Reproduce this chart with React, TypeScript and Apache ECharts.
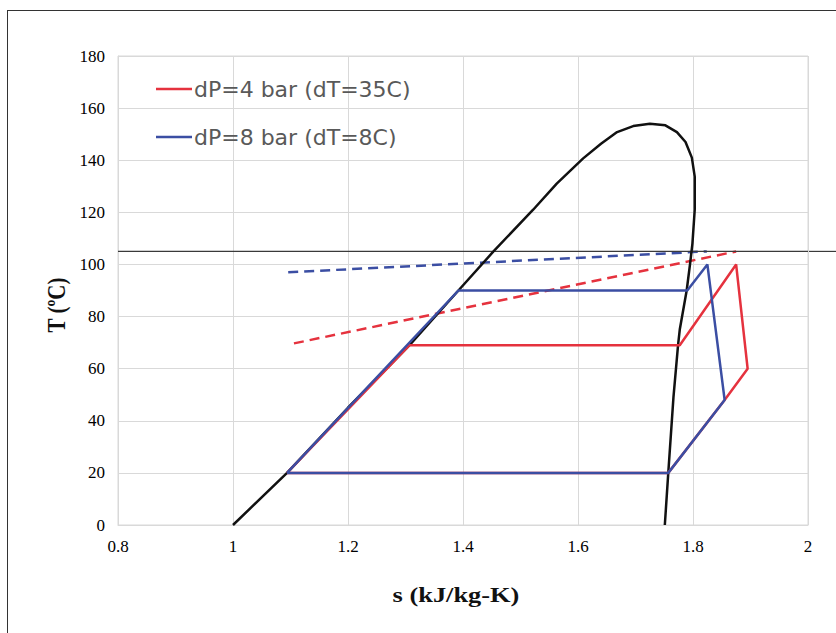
import React, { useEffect, useRef } from "react";
import * as echarts from "echarts";

// Saturation dome (s in kJ/kg-K, T in °C)
const domeS = [1.0, 1.094, 1.2, 1.307, 1.392, 1.453, 1.522, 1.563, 1.609, 1.64, 1.668, 1.696, 1.725, 1.752, 1.772, 1.787, 1.798, 1.803, 1.803, 1.799, 1.795, 1.789, 1.777, 1.774, 1.766, 1.757, 1.751];
const domeT = [0, 20, 45, 69, 90, 105, 121, 131, 140.7, 146.3, 150.8, 153.1, 154, 153.4, 150.8, 147, 141, 133.7, 121, 108, 100.4, 90, 75, 69, 49, 20, 0];

// dP = 4 bar cycle
const redS = [1.094, 1.307, 1.777, 1.875, 1.895, 1.855, 1.757, 1.094];
const redT = [20, 69, 69, 100, 60, 48, 20, 20];
// dP = 8 bar cycle
const blueS = [1.094, 1.392, 1.79, 1.825, 1.855, 1.757, 1.094];
const blueT = [20, 90, 90, 100, 48, 20, 20];

// dashed source lines
const redDashS = [1.106, 1.875];
const redDashT = [69.7, 105];
const blueDashS = [1.096, 1.824];
const blueDashT = [97, 105];

// reference temperature line
const refS = [0.8, 2];
const refT = [105, 105];

const xTicks = { min: 0.8, max: 2, interval: 0.2 };
const yTicks = { min: 0, max: 180, interval: 20 };

const RED = "#e5323e";
const BLUE = "#3b4ea3";
const NAME_RED = "dP=4 bar (dT=35C)";
const NAME_BLUE = "dP=8 bar (dT=8C)";

const pairs = (xs: number[], ys: number[]) => xs.map((x, i) => [x, ys[i]]);

const titleGraphics = [
  {
    type: "text",
    x: 57,
    y: 305,
    rotation: Math.PI / 2,
    scaleY: 1.15,
    style: { text: "T (ºC)", fill: "#111", font: "bold 21px 'Liberation Serif'", align: "center", verticalAlign: "middle" },
  },
  {
    type: "text",
    x: 456,
    y: 594,
    scaleX: 1.2,
    style: { text: "s (kJ/kg-K)", fill: "#111", font: "bold 22px 'Liberation Serif'", align: "center", verticalAlign: "middle" },
  },
];

export default function App() {
  const ref = useRef<HTMLDivElement>(null);
  useEffect(() => {
    if (!ref.current) return;
    const chart = echarts.init(ref.current, undefined, { renderer: "svg" });
    const line = (name: string, xs: number[], ys: number[], color: string, width: number, type: any = "solid") => ({
      name,
      type: "line",
      data: pairs(xs, ys),
      showSymbol: false,
      symbol: "none",
      silent: true,
      lineStyle: { color, width, type },
      itemStyle: { color },
    });
    chart.setOption({
      animation: false,
      grid: { left: 118, right: 28, top: 56, bottom: 108, show: true, borderColor: "#d9d9d9", borderWidth: 1 },
      legend: {
        data: [{ name: NAME_RED }, { name: NAME_BLUE }],
        orient: "vertical",
        left: 151,
        top: 73,
        itemGap: 26,
        icon: "rect",
        itemWidth: 36,
        itemHeight: 2.5,
        selectedMode: false,
        textStyle: { color: "#595959", fontSize: 22, fontFamily: "DejaVu Sans", padding: [0, 0, 0, -3] },
      },
      xAxis: {
        type: "value",
        ...xTicks,
        axisLine: { show: true, lineStyle: { color: "#d9d9d9" } },
        axisTick: { show: false },
        splitLine: { show: true, lineStyle: { color: "#d9d9d9", width: 1 } },
        axisLabel: { color: "#000", fontSize: 17, fontFamily: "Liberation Serif", margin: 13 },
      },
      yAxis: {
        type: "value",
        ...yTicks,
        axisLine: { show: true, lineStyle: { color: "#d9d9d9" } },
        axisTick: { show: false },
        splitLine: { show: true, lineStyle: { color: "#d9d9d9", width: 1 } },
        axisLabel: { color: "#000", fontSize: 17, fontFamily: "Liberation Serif", margin: 13 },
      },
      graphic: titleGraphics,
      series: [
        line("redDash", redDashS, redDashT, RED, 2.5, [10, 6]),
        line("blueDash", blueDashS, blueDashT, BLUE, 2.5, [10, 6]),
        line("ref", refS, refT, "#3a3a3a", 1.2),
        line("dome", domeS, domeT, "#111", 2.5),
        line(NAME_RED, redS, redT, RED, 2.5),
        line(NAME_BLUE, blueS, blueT, BLUE, 2.5),
      ],
    });
    // extend the 105 °C reference line to the right edge of the figure
    const p = chart.convertToPixel({ gridIndex: 0 }, [refS[1], refT[1]]) as number[];
    chart.setOption({
      graphic: [
        ...titleGraphics,
        {
          type: "line",
          shape: { x1: p[0], y1: p[1], x2: 836, y2: p[1] },
          style: { stroke: "#3a3a3a", lineWidth: 1.2 },
          silent: true,
        },
      ],
    });
    return () => chart.dispose();
  }, []);
  return (
    <div style={{ position: "absolute", left: 0, top: 0, width: 836, height: 633, background: "#fff" }}>
      <div
        style={{
          position: "absolute",
          left: 7,
          top: 10,
          width: 840,
          height: 640,
          borderLeft: "1.5px solid #333",
          borderTop: "1.5px solid #333",
        }}
      />
      <div ref={ref} style={{ position: "absolute", left: 0, top: 0, width: 836, height: 633 }} />
    </div>
  );
}
